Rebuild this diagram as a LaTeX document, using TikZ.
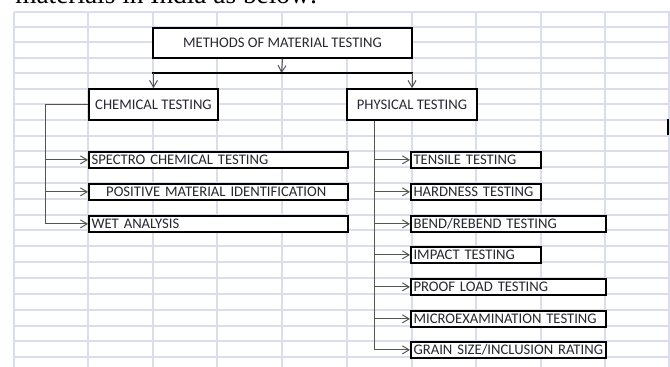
\documentclass[tikz,border=0pt]{standalone}
\usepackage{fontspec}
\setmainfont{Carlito}
\newfontfamily\leadfont{Liberation Serif}
\usetikzlibrary{arrows.meta}
\definecolor{gridcol}{RGB}{218,221,236}
\definecolor{linkcol}{RGB}{85,85,85}
\definecolor{labelcol}{RGB}{40,40,50}
\tikzset{
	cell/.style={draw=gridcol, line width=0.9pt},
	headbox/.style={draw, fill=white, line width=1.5pt, inner sep=0pt, anchor=north west,
		font=\fontsize{11}{12}\selectfont, text=labelcol},
	itembox/.style={draw, fill=white, line width=1.3pt, inner xsep=2pt, inner ysep=0pt,
		minimum height=12pt, anchor=north west, align=left,
		font=\fontsize{11}{12}\selectfont, text=labelcol},
	link/.style={draw=linkcol, line width=0.75pt},
	linkarrow/.style={link, -{Straight Barb[length=5pt,width=6pt]}},
	bar/.style={draw, line width=1.6pt},
}
\begin{document}
\begin{tikzpicture}[x=0.75pt, y=-0.75pt]
	\useasboundingbox (0,0) rectangle (670,367);
	\clip (0,0) rectangle (670,367);
	% spreadsheet cells
	\foreach \gy in {12,27,42,58,73,89,104,120,136,151,167,183,199,215,230,246,262,278,294,310,326,341,357}
		\draw[cell] (14,\gy) -- (670,\gy);
	\foreach \gx in {14,88,153,217,282,347,412,476,541,605,669}
		\draw[cell] (\gx,12) -- (\gx,367);
	% text cut off above
	\node[anchor=base west, inner sep=0pt, font=\leadfont\fontsize{20.5}{24}\selectfont] (lead) at (15,4) {materials in India as below:};
	\draw[line width=1.5pt] (668,119) -- (668,135);

	% boxes
	\node[headbox, minimum width=194.25pt, minimum height=22.5pt] (title) at (152,27) {METHODS OF MATERIAL TESTING};
	\node[headbox, minimum width=96.75pt, minimum height=23.25pt] (chem) at (88,88) {CHEMICAL TESTING};
	\node[headbox, minimum width=97.5pt, minimum height=23.25pt] (phys) at (346,88) {PHYSICAL TESTING};

	\node[itembox, text width=190.25pt] (spectro) at (88,151) {SPECTRO CHEMICAL TESTING};
	\node[itembox, text width=190.25pt] (pmi) at (88,183) {\hspace*{11pt}POSITIVE MATERIAL IDENTIFICATION};
	\node[itembox, text width=190.25pt] (wet) at (88,215) {WET ANALYSIS};

	\node[itembox, text width=93.5pt] (tensile) at (410,151) {TENSILE TESTING};
	\node[itembox, text width=93.5pt] (hardness) at (410,183) {HARDNESS TESTING};
	\node[itembox, text width=142.25pt] (bend) at (410,215) {BEND/REBEND TESTING};
	\node[itembox, text width=93.5pt] (impact) at (410,246) {IMPACT TESTING};
	\node[itembox, text width=142.25pt] (proof) at (410,278) {PROOF LOAD TESTING};
	\node[itembox, text width=142.25pt] (micro) at (410,310) {MICROEXAMINATION TESTING};
	\node[itembox, text width=142.25pt] (grain) at (410,341) {GRAIN SIZE/INCLUSION RATING};

	% split under the title
	\coordinate (split) at (281.5,73);
	\draw[linkarrow] (title.south) -- (split);
	\draw[bar] (split -| title.west) -- (split -| title.east);
	\draw[linkarrow] (split -| chem.north) -- (chem.north);
	\draw[linkarrow] (split -| phys.north) -- (phys.north);

	% chemical branch
	\coordinate (chemrail) at (45,0);
	\draw[link] (chem.west) -| (chemrail |- wet.west);
	\foreach \item in {spectro,pmi,wet}
		\draw[linkarrow] (chemrail |- \item.west) -- (\item.west);

	% physical branch
	\coordinate (physrail) at (374,0);
	\draw[link] (physrail |- phys.south) -- (physrail |- grain.west);
	\foreach \item in {tensile,hardness,bend,impact,proof,micro,grain}
		\draw[linkarrow] (physrail |- \item.west) -- (\item.west);
\end{tikzpicture}
\end{document}
